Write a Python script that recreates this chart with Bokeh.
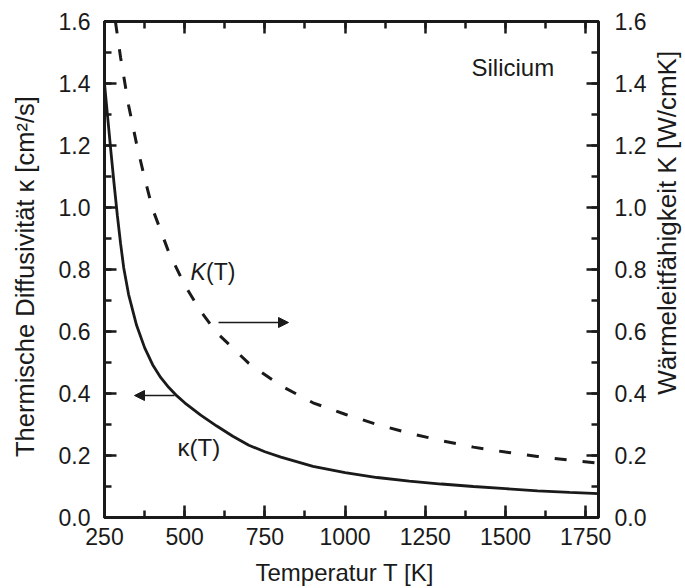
import math
from bokeh.plotting import figure
from bokeh.models import (Range1d, LinearAxis, SingleIntervalTicker, Label, Arrow,
                          NormalHead, CustomJSTickFormatter, PrintfTickFormatter)
from bokeh.embed import file_html
from bokeh.resources import INLINE

# ---- data ----
T_kappa = [250, 260, 270, 280, 290, 300, 310, 325, 350, 375, 400, 425, 450, 475, 500,
           550, 600, 650, 700, 750, 800, 900, 1000, 1100, 1200, 1300, 1400, 1500, 1600,
           1700, 1790]
kappa = [1.40, 1.29, 1.18, 1.075, 0.975, 0.885, 0.805, 0.72, 0.62, 0.548, 0.493, 0.452,
         0.420, 0.393, 0.370, 0.330, 0.295, 0.262, 0.233, 0.212, 0.195, 0.165, 0.145,
         0.129, 0.117, 0.108, 0.100, 0.093, 0.086, 0.081, 0.077]
T_K = [284, 300, 325, 350, 375, 400, 450, 500, 550, 600, 700, 800, 900, 1000, 1100,
       1200, 1300, 1400, 1500, 1600, 1700, 1790]
K_cond = [1.60, 1.485, 1.33, 1.205, 1.095, 0.995, 0.857, 0.75, 0.665, 0.596, 0.497, 0.425,
          0.37, 0.333, 0.30, 0.272, 0.248, 0.227, 0.211, 0.197, 0.185, 0.175]

x_ticks_interval = 250
y_ticks_interval = 0.2

title_x = "Temperatur T [K]"
title_left = "Thermische Diffusivität κ [cm²/s]"
title_right = "Wärmeleitfähigkeit K [W/cmK]"

X0, X1 = 250, 1790
Y0, Y1 = 0.0, 1.6
FW, FH = 494, 496
FL, FT = 104, 21   # frame left/top on page

def px2x(px):
    return X0 + (px - FL) * (X1 - X0) / FW

def py2y(py):
    return Y1 - (py - FT) * (Y1 - Y0) / FH

INK = "#1a1a1a"
FONT = "Liberation Sans"
NBSP = "\u00a0"

p = figure(frame_width=FW, frame_height=FH, x_range=Range1d(X0, X1), y_range=Range1d(Y0, Y1),
           output_backend="svg", toolbar_location=None,
           min_border_left=FL, min_border_right=685 - FL - FW, min_border_top=FT,
           min_border_bottom=588 - FT - FH)
p.grid.visible = False
p.outline_line_color = INK
p.outline_line_width = 3
p.background_fill_color = "white"
p.border_fill_color = "white"

bottom_axis = p.below[0]
left_axis = p.left[0]

p.extra_y_ranges = {"right": Range1d(Y0, Y1)}
right_axis = LinearAxis(y_range_name="right")
top_axis = LinearAxis()
p.add_layout(right_axis, "right")
p.add_layout(top_axis, "above")

def style(ax, ticker, fmt, standoff):
    ax.ticker = ticker
    ax.formatter = fmt
    ax.axis_line_width = 3
    ax.axis_line_color = INK
    ax.major_tick_in = 12
    ax.major_tick_out = 0
    ax.minor_tick_in = 7
    ax.minor_tick_out = 0
    ax.major_tick_line_width = 2.5
    ax.minor_tick_line_width = 2.5
    ax.major_tick_line_color = INK
    ax.minor_tick_line_color = INK
    ax.major_label_text_font = FONT
    ax.major_label_text_font_size = "23px"
    ax.major_label_text_color = INK
    ax.major_label_standoff = standoff
    ax.axis_label_text_font = FONT
    ax.axis_label_text_font_style = "normal"
    ax.axis_label_text_color = INK

xt = SingleIntervalTicker(interval=x_ticks_interval, num_minor_ticks=2)
yt = SingleIntervalTicker(interval=y_ticks_interval, num_minor_ticks=2)
xt2 = SingleIntervalTicker(interval=x_ticks_interval, num_minor_ticks=2)
yt2 = SingleIntervalTicker(interval=y_ticks_interval, num_minor_ticks=2)
empty = CustomJSTickFormatter(code="return ''")

style(bottom_axis, xt, PrintfTickFormatter(format="%d"), 10)
style(left_axis, yt, PrintfTickFormatter(format="%.1f"), 14)
style(right_axis, yt2, PrintfTickFormatter(format="%.1f"), 16)
style(top_axis, xt2, empty, 0)

bottom_axis.axis_label = title_x + NBSP * 2
bottom_axis.axis_label_text_font_size = "24px"
bottom_axis.axis_label_text_line_height = 0.7
bottom_axis.axis_label_standoff = 11

left_axis.axis_label = title_left + NBSP * 2
left_axis.axis_label_text_font_size = "25.5px"
left_axis.axis_label_standoff = 17

right_axis.axis_label_text_font_size = "26px"
right_axis.axis_label_text_line_height = 0.6
right_axis.axis_label_standoff = 18
right_axis.axis_label_orientation = math.pi / 2
right_axis.axis_label_align = "start"
right_axis.axis_label = NBSP * 17 + title_right

p.line(T_kappa, kappa, line_color=INK, line_width=2.8)
p.line(T_K, K_cond, line_color=INK, line_width=3, line_dash="12 16")

def lab(text, px, py, size, italic=False):
    p.add_layout(Label(x=px2x(px), y=py2y(py), text=text, text_font=FONT,
                       text_font_size=f"{size}px", text_color=INK,
                       text_font_style="italic" if italic else "normal",
                       text_align="left", text_baseline="middle"))

lab("Silicium", 471, 67, 24)
lab("K", 190, 271, 23, italic=True)
lab("(T)", 205.5, 271, 23)
lab("κ(T)", 177, 447, 24)

head = dict(size=10, fill_color=INK, line_color=INK)
p.add_layout(Arrow(x_start=px2x(174), y_start=py2y(395), x_end=px2x(134), y_end=py2y(395),
                   end=NormalHead(**head), line_width=1.5, line_color=INK))
p.add_layout(Arrow(x_start=px2x(218), y_start=py2y(322), x_end=px2x(288), y_end=py2y(322),
                   end=NormalHead(**head), line_width=1.5, line_color=INK))

open("out.html", "w").write(file_html(p, INLINE))
